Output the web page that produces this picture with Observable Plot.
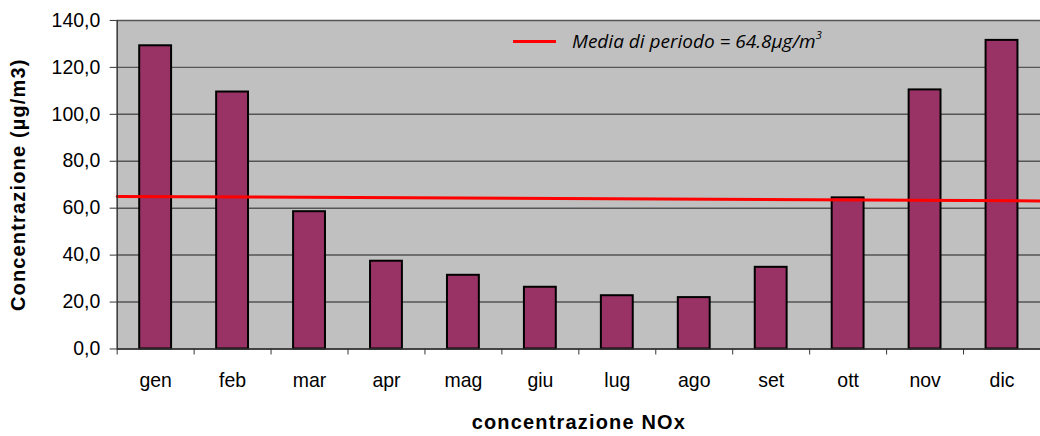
<!DOCTYPE html>
<html>
<head>
<meta charset="utf-8">
<script src="https://cdn.jsdelivr.net/npm/d3@7"></script>
<script src="https://cdn.jsdelivr.net/npm/@observablehq/plot@0.6"></script>
<style>
  html, body { margin: 0; padding: 0; background: #fff; overflow: hidden; width: 1040px; height: 436px; }
  #wrap { position: relative; width: 1040px; height: 436px; }
  #legend { position: absolute; left: 513px; top: 28px; display: flex; align-items: center;
    font-family: "Open Sans", sans-serif; font-style: italic; font-size: 19px; color: #000; white-space: nowrap; }
  #legend .sw { width: 43px; height: 3px; background: #ff0000; margin-right: 16px; }
  #legend sup { font-size: 11px; position: relative; top: -2px; }
</style>
</head>
<body>
<div id="wrap">
  <div id="chart"></div>
  <div id="legend"><span class="sw"></span><span>Media di periodo = 64.8µg/m<sup>3</sup></span></div>
</div>
<script>
const months = ["gen", "feb", "mar", "apr", "mag", "giu", "lug", "ago", "set", "ott", "nov", "dic"];
const values = [129.2, 109.5, 58.5, 37.4, 31.4, 26.3, 22.7, 21.9, 34.8, 64.4, 110.4, 131.5];
const yTicks = [0, 20, 40, 60, 80, 100, 120, 140];
const meanLineX = [0, 12];
const meanLineY = [65.0, 63.1];
const yTitle = "Concentrazione (µg/m3)";
const xTitle = "concentrazione NOx";

const data = months.map((m, i) => ({ month: m, i, value: values[i] }));
const meanData = meanLineX.map((x, k) => ({ x, y: meanLineY[k] }));

const chart = Plot.plot({
  width: 1043,
  height: 436,
  marginLeft: 117,
  marginRight: 0,
  marginTop: 20,
  marginBottom: 86.5,
  x: { domain: [0, 12] },
  y: { domain: [0, 140] },
  style: { fontFamily: "'Liberation Sans', Arial, sans-serif", fontSize: "19.5px", color: "#000", background: "#fff" },
  marks: [
    Plot.frame({ fill: "#c0c0c0" }),
    Plot.gridY(yTicks, { stroke: "#555", strokeOpacity: 1, strokeWidth: 1.5 }),
    Plot.rectY(data, { x1: d => d.i, x2: d => d.i + 1, y: "value", insetLeft: 22.6, insetRight: 22.6,
      fill: "#993366", stroke: "#000", strokeWidth: 2 }),
    Plot.line(meanData, { x: "x", y: "y", stroke: "#ff0000", strokeWidth: 3 }),
    Plot.ruleX([0], { stroke: "#333", strokeWidth: 1.5 }),
    Plot.ruleY([0], { stroke: "#333", strokeWidth: 1.5 }),
    Plot.axisY(yTicks, { tickFormat: d => d.toFixed(1).replace(".", ","), tickSize: 7, tickPadding: 10,
      label: null, stroke: "#333" }),
    Plot.axisX(d3.range(13), { tickFormat: () => "", tickSize: 6, label: null, stroke: "#333" }),
    Plot.axisX(months.map((m, i) => i + 0.5), { tickSize: 0, tickPadding: 24,
      tickFormat: d => months[Math.floor(d)], label: null }),
    Plot.text([yTitle], { frameAnchor: "left", rotate: -90, dx: -99, textAnchor: "middle", lineAnchor: "middle",
      fontWeight: "bold", fontSize: 20, className: "ttl" }),
    Plot.text([xTitle], { frameAnchor: "bottom", dy: 74, textAnchor: "middle", lineAnchor: "middle",
      fontWeight: "bold", fontSize: 20, className: "ttl" })
  ]
});
d3.select(chart).selectAll("g.ttl text").style("letter-spacing", "1.2px");
document.getElementById("chart").appendChild(chart);
</script>
</body>
</html>
